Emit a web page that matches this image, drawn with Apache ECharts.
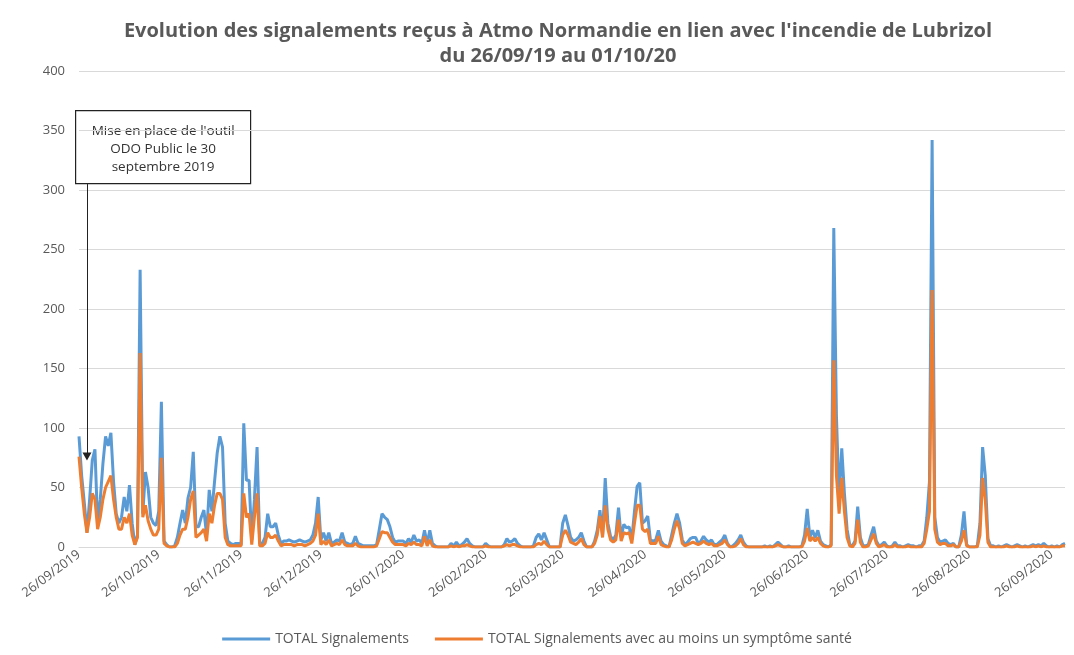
<!DOCTYPE html>
<html>
<head>
<meta charset="utf-8">
<script src="https://cdn.jsdelivr.net/npm/echarts@6/dist/echarts.min.js"></script>
<style>
  html, body { margin: 0; padding: 0; background: #fff; }
  #chart { width: 1074px; height: 655px; }
</style>
</head>
<body>
<div id="chart"></div>
<script>
  // daily counts, 26/09/2019 -> 01/10/2020
  const totalSignalements = [
    93, 60, 37, 12, 40, 73, 82, 20, 40, 70,
    93, 85, 96, 55, 28, 20, 25, 42, 30, 52,
    20, 2, 10, 233, 28, 63, 50, 25, 20, 18,
    30, 122, 5, 2, 0, 0, 1, 8, 20, 31,
    20, 41, 50, 80, 17, 17, 25, 31, 10, 48,
    30, 55, 79, 93, 84, 20, 5, 3, 2, 3,
    3, 2, 104, 56, 56, 6, 40, 84, 3, 3,
    8, 28, 17, 17, 20, 10, 3, 5, 5, 6,
    5, 4, 5, 6, 5, 4, 5, 6, 10, 20,
    42, 6, 12, 5, 12, 3, 4, 6, 5, 12,
    4, 3, 2, 3, 9, 3, 2, 1, 1, 1,
    1, 1, 2, 15, 28, 25, 23, 17, 8, 4,
    5, 5, 5, 3, 7, 4, 10, 5, 6, 3,
    14, 3, 14, 3, 1, 0, 0, 0, 0, 0,
    3, 1, 4, 1, 2, 4, 7, 3, 1, 0,
    0, 0, 0, 3, 1, 0, 0, 0, 0, 0,
    2, 7, 4, 5, 7, 3, 1, 0, 0, 0,
    0, 1, 8, 11, 6, 12, 6, 0, 0, 0,
    0, 0, 20, 27, 18, 8, 5, 6, 8, 12,
    5, 0, 0, 0, 5, 14, 31, 10, 58, 20,
    9, 6, 10, 33, 8, 19, 16, 17, 6, 30,
    51, 54, 20, 22, 26, 6, 5, 6, 14, 5,
    2, 1, 0, 10, 20, 28, 20, 6, 2, 4,
    7, 8, 8, 3, 5, 9, 6, 4, 6, 2,
    2, 4, 6, 10, 3, 0, 1, 3, 6, 10,
    4, 1, 0, 0, 0, 0, 0, 0, 1, 0,
    1, 0, 2, 4, 2, 0, 0, 1, 0, 0,
    0, 0, 1, 10, 32, 8, 14, 8, 14, 5,
    2, 1, 0, 2, 268, 110, 40, 83, 45, 15,
    2, 1, 5, 34, 8, 1, 1, 2, 10, 17,
    5, 1, 2, 4, 1, 0, 1, 4, 1, 1,
    0, 1, 2, 1, 1, 0, 1, 1, 5, 25,
    55, 342, 25, 8, 4, 5, 6, 3, 2, 3,
    0, 0, 10, 30, 2, 0, 0, 0, 1, 20,
    84, 60, 7, 1, 1, 0, 1, 0, 1, 2,
    1, 0, 1, 2, 1, 0, 1, 0, 1, 2,
    1, 2, 1, 3, 1, 0, 1, 0, 1, 0,
    2, 3
  ];
  const totalSante = [
    76, 50, 28, 12, 25, 45, 40, 15, 25, 40,
    50, 55, 60, 40, 25, 15, 15, 25, 20, 28,
    10, 2, 8, 163, 25, 35, 22, 15, 10, 10,
    15, 75, 3, 1, 0, 0, 0, 3, 10, 15,
    15, 25, 40, 47, 8, 10, 12, 15, 5, 28,
    20, 35, 45, 45, 40, 8, 2, 1, 1, 1,
    1, 1, 45, 25, 28, 2, 25, 45, 1, 1,
    3, 12, 8, 8, 10, 5, 1, 2, 2, 2,
    2, 1, 2, 2, 2, 1, 2, 3, 5, 10,
    28, 2, 5, 2, 6, 1, 2, 3, 2, 6,
    2, 1, 1, 1, 3, 1, 0, 0, 0, 0,
    0, 0, 1, 7, 13, 12, 12, 8, 4, 2,
    2, 2, 2, 1, 3, 2, 4, 2, 2, 1,
    9, 1, 6, 1, 0, 0, 0, 0, 0, 0,
    1, 0, 1, 0, 1, 1, 2, 1, 0, 0,
    0, 0, 0, 1, 0, 0, 0, 0, 0, 0,
    1, 2, 1, 2, 2, 1, 0, 0, 0, 0,
    0, 0, 2, 3, 2, 5, 2, 0, 0, 0,
    0, 0, 10, 14, 10, 4, 3, 2, 4, 7,
    2, 0, 0, 0, 3, 10, 26, 8, 35, 15,
    6, 4, 6, 23, 5, 12, 11, 12, 3, 20,
    35, 35, 15, 13, 15, 3, 3, 3, 9, 2,
    1, 0, 0, 6, 15, 22, 15, 3, 1, 2,
    3, 4, 3, 2, 3, 5, 3, 2, 3, 1,
    1, 2, 3, 6, 2, 0, 0, 1, 3, 7,
    2, 0, 0, 0, 0, 0, 0, 0, 0, 0,
    0, 0, 1, 2, 1, 0, 0, 0, 0, 0,
    0, 0, 0, 5, 16, 5, 8, 5, 8, 3,
    1, 0, 0, 1, 157, 60, 28, 58, 30, 8,
    1, 0, 3, 23, 4, 0, 0, 1, 6, 11,
    3, 0, 1, 2, 0, 0, 0, 2, 0, 0,
    0, 0, 1, 0, 0, 0, 0, 0, 3, 15,
    30, 216, 15, 4, 2, 3, 3, 1, 1, 2,
    0, 0, 5, 14, 1, 0, 0, 0, 0, 10,
    58, 40, 4, 0, 0, 0, 0, 0, 0, 1,
    0, 0, 0, 1, 0, 0, 0, 0, 0, 1,
    0, 1, 0, 1, 0, 0, 0, 0, 0, 0,
    1, 1
  ];
  const seriesNames = ["TOTAL Signalements", "TOTAL Signalements avec au moins un symptôme santé"];
  const yTicks = [0, 50, 100, 150, 200, 250, 300, 350, 400];

  // one category per day
  const dates = [];
  const start = new Date(2019, 8, 26);
  for (let i = 0; i < totalSignalements.length; i++) {
    const d = new Date(start.getFullYear(), start.getMonth(), start.getDate() + i);
    const dd = String(d.getDate()).padStart(2, "0");
    const mm = String(d.getMonth() + 1).padStart(2, "0");
    dates.push(dd + "/" + mm + "/" + d.getFullYear());
  }

  const chart = echarts.init(document.getElementById("chart"));
  const grey = "#595959";
  const option = {
    backgroundColor: "#fff",
    animation: false,
    textStyle: { fontFamily: "Open Sans" },
    title: {
      text: "Evolution des signalements reçus à Atmo Normandie en lien avec l'incendie de Lubrizol\ndu 26/09/19 au 01/10/20",
      left: 553,
      top: 14,
      textAlign: "center",
      textStyle: { fontSize: 20, fontWeight: "bold", color: grey, lineHeight: 25, fontFamily: "Open Sans" },
    },
    legend: {
      bottom: 4,
      left: "center",
      itemWidth: 48,
      itemHeight: 3,
      itemGap: 26,
      icon: "rect",
      textStyle: { fontSize: 14, color: grey },
      data: seriesNames,
    },
    grid: { left: 79, right: 9, top: 71, bottom: 108, containLabel: false },
    xAxis: {
      type: "category",
      boundaryGap: false,
      data: dates,
      axisLine: { lineStyle: { color: "#d9d9d9" } },
      axisTick: { show: false },
      axisLabel: {
        interval: (idx, val) => val.startsWith("26/"),
        rotate: 37,
        fontSize: 13,
        color: grey,
        margin: 6,
      },
    },
    yAxis: {
      type: "value",
      min: yTicks[0],
      max: yTicks[yTicks.length - 1],
      interval: 50,
      axisLabel: { fontSize: 13, color: grey, margin: 14 },
      splitLine: { lineStyle: { color: "#d9d9d9" } },
      axisLine: { show: false },
      axisTick: { show: false },
    },
    series: [
      {
        name: seriesNames[0],
        type: "line",
        data: totalSignalements,
        color: "#5B9BD5",
        showSymbol: false,
        lineStyle: { width: 3 },
        markLine: {
          silent: true,
          symbol: ["none", "triangle"],
          symbolSize: [9, 8],
          label: { show: false },
          lineStyle: { color: "#222", width: 1, type: "solid" },
          data: [[{ coord: [3, 305] }, { coord: [3, 76], symbolRotate: 180 }]],
        },
      },
      {
        name: seriesNames[1],
        type: "line",
        data: totalSante,
        color: "#ED7D31",
        showSymbol: false,
        lineStyle: { width: 3 },
      },
    ],
    graphic: [
      {
        type: "group",
        left: 75,
        top: 110,
        children: [
          {
            type: "rect",
            shape: { x: 0, y: 0, width: 175, height: 73 },
            style: { fill: "#fff", stroke: "#222", lineWidth: 1.2 },
          },
          {
            type: "text",
            x: 87.5,
            y: 12,
            style: {
              text: "Mise en place de l'outil\nODO Public le 30\nseptembre 2019",
              align: "center",
              fontSize: 13.5,
              lineHeight: 18,
              fill: "#333",
              fontFamily: "Open Sans",
            },
          },
        ],
      },
    ],
  };
  chart.setOption(option);
</script>
</body>
</html>
